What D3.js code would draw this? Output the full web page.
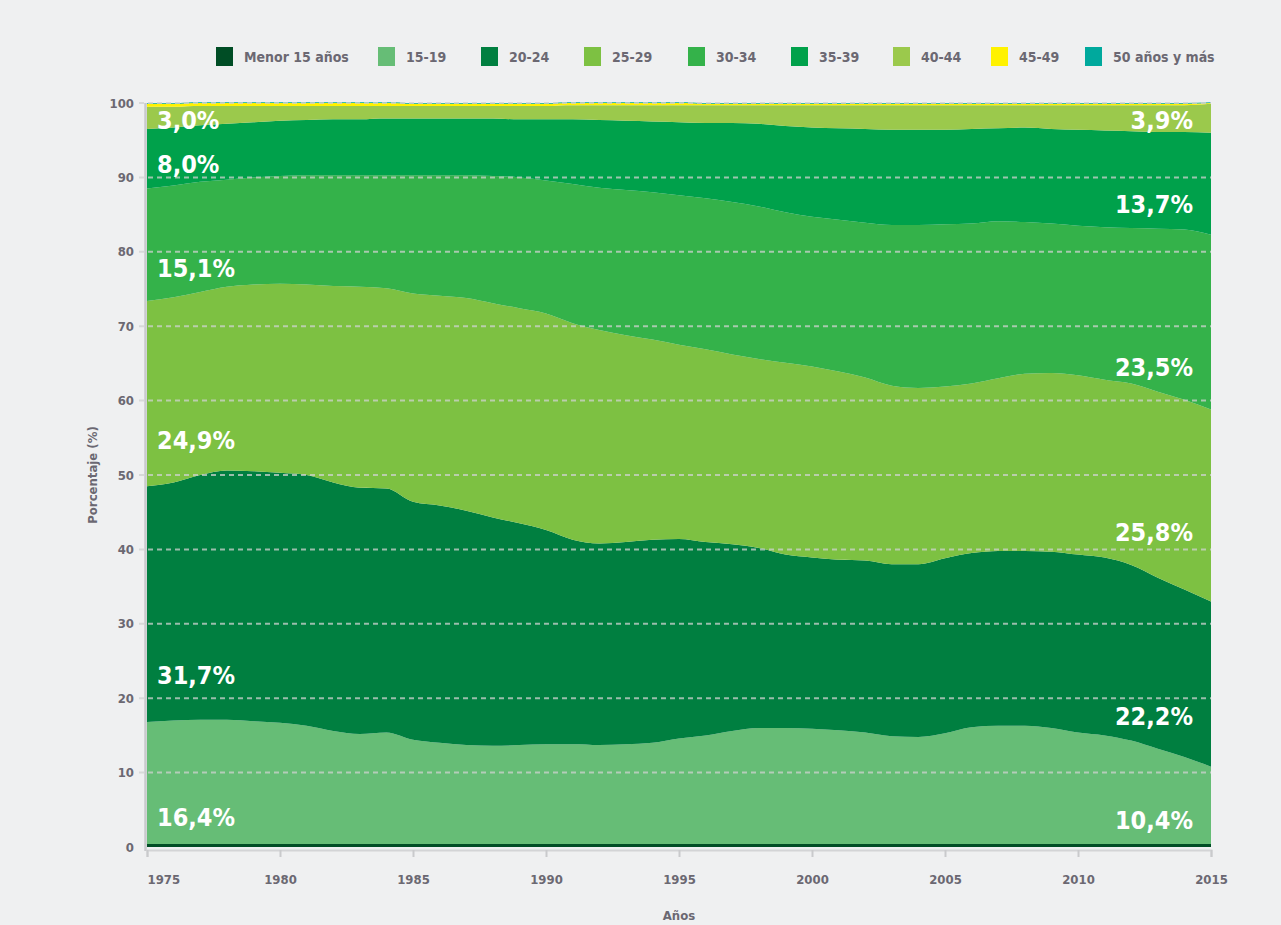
<!DOCTYPE html>
<html>
<head>
<meta charset="utf-8">
<script src="https://cdn.jsdelivr.net/npm/d3@7"></script>
<style>
  html, body { margin: 0; padding: 0; background: #eff0f1; }
  svg { display: block; }
  .cond { font-family: "Liberation Sans Narrow", "DejaVu Sans Condensed", "Roboto Condensed", sans-serif; }
</style>
</head>
<body>
<div id="graph01"></div>
<script>
// ---- datos ----
const years = d3.range(1975, 2016);

const groups = ["Menor 15 años", "15-19", "20-24", "25-29", "30-34", "35-39", "40-44", "45-49", "50 años y más"];
const colors = ["#004d25", "#66bd76", "#007f40", "#7dc142", "#34b24a", "#00a14b", "#9bc94c", "#fff200", "#00a99d"];

const menor15 = [0.4,0.4,0.4,0.4,0.4,0.4,0.4,0.4,0.4,0.4, 0.4,0.4,0.4,0.4,0.4,0.4,0.4,0.4,0.4,0.4,
                 0.4,0.4,0.4,0.4,0.4,0.4,0.4,0.4,0.4,0.4, 0.4,0.4,0.4,0.4,0.4,0.4,0.4,0.4,0.4,0.4, 0.4];
const g15_19 = [16.4,16.6,16.7,16.7,16.5,16.3,15.9,15.2,14.8,15.0, 14.0,13.6,13.3,13.2,13.3,13.4,13.4,13.3,13.4,13.6,
                14.2,14.6,15.2,15.6,15.6,15.5,15.3,15.0,14.5,14.4, 14.9,15.7,15.9,15.9,15.6,15.0,14.6,13.9,12.8,11.7, 10.4];
const g20_24 = [31.7,32.0,32.9,33.5,33.6,33.6,33.7,33.4,33.1,32.8, 32.0,31.9,31.5,30.7,29.8,28.8,27.5,27.1,27.2,27.3,
                26.8,26.0,25.1,24.2,23.3,23.0,22.9,23.1,23.1,23.2, 23.5,23.4,23.5,23.5,23.7,23.9,23.9,23.6,23.0,22.5, 22.2];
const g25_29 = [24.9,24.9,24.6,24.7,25.1,25.4,25.6,26.4,27.0,26.9, 28.0,28.2,28.6,28.8,28.9,29.1,29.1,28.7,27.8,26.9,
                26.1,25.9,25.5,25.4,25.8,25.7,25.3,24.6,24.0,23.7, 23.1,22.8,23.2,23.8,24.0,24.1,23.9,24.4,25.0,25.5, 25.8];
const g30_34 = [15.1,15.0,14.8,14.4,14.4,14.5,14.7,14.9,15.0,15.2, 15.9,16.2,16.5,17.1,17.6,17.9,18.7,19.1,19.5,19.8,
                20.1,20.3,20.5,20.5,20.2,20.1,20.4,20.8,21.6,21.9, 21.8,21.5,21.1,20.4,20.1,20.1,20.5,20.9,21.9,22.9, 23.5];
const g35_39 = [8.0,7.8,7.6,7.5,7.4,7.4,7.4,7.5,7.5,7.6, 7.6,7.6,7.6,7.7,7.8,8.2,8.7,9.1,9.3,9.5,
                9.8,10.1,10.6,11.1,11.6,12.0,12.3,12.6,12.8,12.8, 12.7,12.7,12.5,12.7,12.7,12.9,13.0,13.0,13.0,13.1, 13.7];
const g40_44 = [3.0,2.8,2.6,2.4,2.2,2.0,1.9,1.8,1.8,1.7, 1.7,1.7,1.7,1.7,1.8,1.8,1.9,2.0,2.1,2.2,
                2.3,2.4,2.4,2.5,2.8,3.0,3.1,3.2,3.3,3.3, 3.3,3.2,3.1,3.0,3.2,3.3,3.4,3.5,3.6,3.6, 3.9];
const g45_49 = [0.4,0.4,0.4,0.4,0.4,0.4,0.4,0.4,0.4,0.4, 0.3,0.3,0.3,0.3,0.3,0.3,0.3,0.3,0.3,0.3,
                0.3,0.2,0.2,0.2,0.2,0.2,0.2,0.2,0.2,0.2, 0.2,0.2,0.2,0.2,0.2,0.2,0.2,0.2,0.2,0.2, 0.1];
const g50mas = [0.1,0.1,0.1,0.1,0.1,0.1,0.1,0.1,0.1,0.1, 0.1,0.1,0.1,0.1,0.1,0.1,0.1,0.1,0.1,0.1,
                0.1,0.1,0.1,0.1,0.1,0.1,0.1,0.1,0.1,0.1, 0.1,0.1,0.1,0.1,0.1,0.1,0.1,0.1,0.1,0.1, 0.1];

const yTicks = [0, 10, 20, 30, 40, 50, 60, 70, 80, 90, 100];
const xTicks = [1975, 1980, 1985, 1990, 1995, 2000, 2005, 2010, 2015];

// ---- grafico ----
(function() {
    const W = 1281, H = 925;
    const margin = { left: 147, right: 70, top: 103, bottom: 78 };

    const svg = d3.select("#graph01").append("svg")
        .attr("width", W).attr("height", H);

    const series = [menor15, g15_19, g20_24, g25_29, g30_34, g35_39, g40_44, g45_49, g50mas];
    const table = years.map((yr, i) => {
        const row = { year: yr };
        groups.forEach((g, k) => row[g] = series[k][i]);
        return row;
    });

    const stacked = d3.stack().keys(groups)(table);

    const x = d3.scaleLinear().domain([1975, 2015]).range([margin.left, W - margin.right]);
    const y = d3.scaleLinear().domain([0, 100]).range([H - margin.bottom, margin.top]);

    // áreas
    const area = d3.area()
        .curve(d3.curveMonotoneX)
        .x(d => x(d.data.year))
        .y0(d => y(d[0]))
        .y1(d => y(d[1]));

    svg.append("g").selectAll("path")
        .data(stacked)
        .join("path")
        .attr("fill", (d, i) => colors[i])
        .attr("d", area);

    // eje izquierdo (línea gris)
    svg.append("line")
        .attr("x1", x(1975) - 1.5).attr("x2", x(1975) - 1.5)
        .attr("y1", y(100)).attr("y2", y(0) + 4)
        .attr("stroke", "#c9cacc").attr("stroke-width", 2.5);

    // líneas de cuadrícula
    svg.append("g").selectAll("line")
        .data(yTicks.filter(v => v > 0))
        .join("line")
        .attr("x1", x(1975) - 8).attr("x2", x(2015))
        .attr("y1", d => y(d)).attr("y2", d => y(d))
        .attr("stroke", "#cfd2d0").attr("stroke-opacity", 0.75)
        .attr("stroke-width", 2).attr("stroke-dasharray", "5,4");

    // eje X
    const axisX = d3.axisBottom(x).tickValues(xTicks).tickFormat(d3.format("d"))
        .tickSize(7).tickPadding(18);
    const gx = svg.append("g")
        .attr("transform", "translate(0," + (y(0) + 3) + ")")
        .call(axisX);
    gx.select(".domain").attr("stroke", "#d3d4d6").attr("stroke-width", 2);
    gx.selectAll(".tick line").attr("stroke", "#c9cacc").attr("stroke-width", 2);
    gx.selectAll(".tick text")
        .attr("class", "cond")
        .attr("fill", "#6b6872").attr("font-size", 13).attr("font-weight", "bold")
        .attr("text-anchor", d => d === 1975 ? "start" : "middle");

    // eje Y
    const axisY = d3.axisLeft(y).tickValues(yTicks).tickSize(0).tickPadding(13);
    const gy = svg.append("g")
        .attr("transform", "translate(" + x(1975) + ",0)")
        .call(axisY);
    gy.select(".domain").remove();
    gy.selectAll(".tick text")
        .attr("class", "cond")
        .attr("fill", "#6b6872").attr("font-size", 13).attr("font-weight", "bold");

    // títulos de ejes
    svg.append("text")
        .attr("class", "cond")
        .attr("transform", "translate(97," + y(50) + ") rotate(-90)")
        .attr("text-anchor", "middle")
        .attr("fill", "#6b6872").attr("font-size", 13).attr("font-weight", "bold")
        .text("Porcentaje (%)");
    svg.append("text")
        .attr("class", "cond")
        .attr("x", (x(1975) + x(2015)) / 2).attr("y", 920)
        .attr("text-anchor", "middle")
        .attr("fill", "#6b6872").attr("font-size", 13).attr("font-weight", "bold")
        .text("Años");

    // etiquetas de valores (primer y último año)
    const fmt = v => d3.format(".1f")(v).replace(".", ",") + "%";
    const liftLeft  = [null, 3.5, 6.2, 6.1, 4.4, 3.3, 1.1];
    const liftRight = [null, 3.2, 6.8, 9.3, 5.7, 4.0, 1.7];
    const last = years.length - 1;
    const labels = svg.append("g")
        .attr("class", "cond")
        .attr("fill", "#ffffff").attr("font-size", 25).attr("font-weight", "bold");
    for (let k = 1; k <= 6; k++) {
        const s = stacked[k];
        labels.append("text")
            .attr("x", x(1975) + 10)
            .attr("y", y(s[0][0] + liftLeft[k]))
            .attr("dominant-baseline", "central")
            .text(fmt(series[k][0]));
        labels.append("text")
            .attr("x", x(2015) - 18)
            .attr("y", y(s[last][0] + liftRight[k]))
            .attr("dominant-baseline", "central")
            .attr("text-anchor", "end")
            .text(fmt(series[k][last]));
    }

    // leyenda
    const legendX = [216, 378, 481, 584, 688, 791, 893, 991, 1085];
    const legend = svg.append("g").selectAll("g")
        .data(groups)
        .join("g")
        .attr("transform", (d, i) => "translate(" + legendX[i] + ",47)");
    legend.append("rect")
        .attr("width", 17).attr("height", 19)
        .attr("fill", (d, i) => colors[i]);
    legend.append("text")
        .attr("class", "cond")
        .attr("x", 28).attr("y", 10)
        .attr("dominant-baseline", "central")
        .attr("fill", "#6b6872").attr("font-size", 14).attr("font-weight", "bold")
        .text(d => d);
})();
</script>
</body>
</html>
